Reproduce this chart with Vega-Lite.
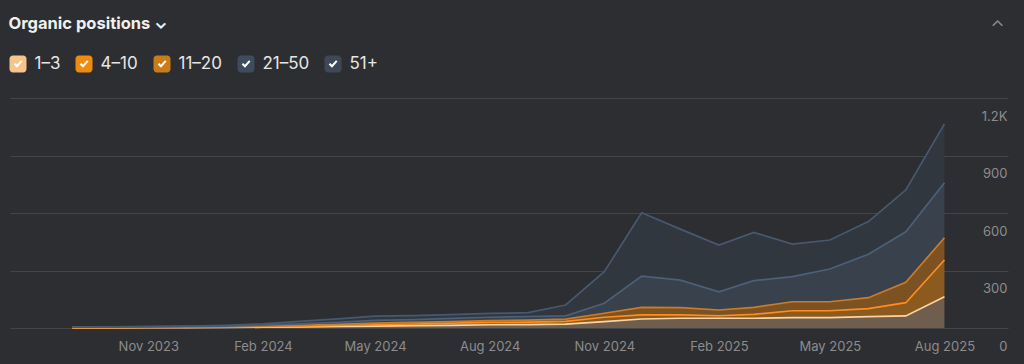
{
  "$schema": "https://vega.github.io/schema/vega-lite/v6.json",
  "width": 998,
  "height": 230,
  "autosize": {"type": "none"},
  "padding": {"left": 10, "top": 98, "right": 16, "bottom": 36},
  "background": "#2d2e31",
  "config": {
    "view": {"stroke": null},
    "font": "Inter",
    "axis": {"domain": false, "ticks": false, "tickSize": 0, "labelFont": "Inter", "labelFontSize": 13, "labelColor": "#8c8c8e"}
  },
  "data": {
    "format": {"parse": {"month": "date:'%Y-%m'"}},
    "values": [
      {"month":"2023-09","series":"1–3","rank":1,"value":1},{"month":"2023-10","series":"1–3","rank":1,"value":1},{"month":"2023-11","series":"1–3","rank":1,"value":2},{"month":"2023-12","series":"1–3","rank":1,"value":2},{"month":"2024-01","series":"1–3","rank":1,"value":3},{"month":"2024-02","series":"1–3","rank":1,"value":4},{"month":"2024-03","series":"1–3","rank":1,"value":6},{"month":"2024-04","series":"1–3","rank":1,"value":8},{"month":"2024-05","series":"1–3","rank":1,"value":10},{"month":"2024-06","series":"1–3","rank":1,"value":12},{"month":"2024-07","series":"1–3","rank":1,"value":14},{"month":"2024-08","series":"1–3","rank":1,"value":17},{"month":"2024-09","series":"1–3","rank":1,"value":18},{"month":"2024-10","series":"1–3","rank":1,"value":20},{"month":"2024-11","series":"1–3","rank":1,"value":33},{"month":"2024-12","series":"1–3","rank":1,"value":47},{"month":"2025-01","series":"1–3","rank":1,"value":51},{"month":"2025-02","series":"1–3","rank":1,"value":51},{"month":"2025-03","series":"1–3","rank":1,"value":51},{"month":"2025-04","series":"1–3","rank":1,"value":54},{"month":"2025-05","series":"1–3","rank":1,"value":54},{"month":"2025-06","series":"1–3","rank":1,"value":59},{"month":"2025-07","series":"1–3","rank":1,"value":63},{"month":"2025-08","series":"1–3","rank":1,"value":163},
      {"month":"2023-09","series":"4–10","rank":2,"value":1},{"month":"2023-10","series":"4–10","rank":2,"value":1},{"month":"2023-11","series":"4–10","rank":2,"value":1},{"month":"2023-12","series":"4–10","rank":2,"value":2},{"month":"2024-01","series":"4–10","rank":2,"value":2},{"month":"2024-02","series":"4–10","rank":2,"value":3},{"month":"2024-03","series":"4–10","rank":2,"value":4},{"month":"2024-04","series":"4–10","rank":2,"value":5},{"month":"2024-05","series":"4–10","rank":2,"value":7},{"month":"2024-06","series":"4–10","rank":2,"value":9},{"month":"2024-07","series":"4–10","rank":2,"value":11},{"month":"2024-08","series":"4–10","rank":2,"value":12},{"month":"2024-09","series":"4–10","rank":2,"value":13},{"month":"2024-10","series":"4–10","rank":2,"value":15},{"month":"2024-11","series":"4–10","rank":2,"value":23},{"month":"2024-12","series":"4–10","rank":2,"value":21},{"month":"2025-01","series":"4–10","rank":2,"value":17},{"month":"2025-02","series":"4–10","rank":2,"value":13},{"month":"2025-03","series":"4–10","rank":2,"value":20},{"month":"2025-04","series":"4–10","rank":2,"value":36},{"month":"2025-05","series":"4–10","rank":2,"value":36},{"month":"2025-06","series":"4–10","rank":2,"value":42},{"month":"2025-07","series":"4–10","rank":2,"value":69},{"month":"2025-08","series":"4–10","rank":2,"value":192},
      {"month":"2023-09","series":"11–20","rank":3,"value":1},{"month":"2023-10","series":"11–20","rank":3,"value":1},{"month":"2023-11","series":"11–20","rank":3,"value":1},{"month":"2023-12","series":"11–20","rank":3,"value":1},{"month":"2024-01","series":"11–20","rank":3,"value":2},{"month":"2024-02","series":"11–20","rank":3,"value":3},{"month":"2024-03","series":"11–20","rank":3,"value":4},{"month":"2024-04","series":"11–20","rank":3,"value":6},{"month":"2024-05","series":"11–20","rank":3,"value":8},{"month":"2024-06","series":"11–20","rank":3,"value":8},{"month":"2024-07","series":"11–20","rank":3,"value":8},{"month":"2024-08","series":"11–20","rank":3,"value":9},{"month":"2024-09","series":"11–20","rank":3,"value":10},{"month":"2024-10","series":"11–20","rank":3,"value":11},{"month":"2024-11","series":"11–20","rank":3,"value":21},{"month":"2024-12","series":"11–20","rank":3,"value":40},{"month":"2025-01","series":"11–20","rank":3,"value":38},{"month":"2025-02","series":"11–20","rank":3,"value":30},{"month":"2025-03","series":"11–20","rank":3,"value":37},{"month":"2025-04","series":"11–20","rank":3,"value":47},{"month":"2025-05","series":"11–20","rank":3,"value":47},{"month":"2025-06","series":"11–20","rank":3,"value":57},{"month":"2025-07","series":"11–20","rank":3,"value":106},{"month":"2025-08","series":"11–20","rank":3,"value":116},
      {"month":"2023-09","series":"21–50","rank":4,"value":1},{"month":"2023-10","series":"21–50","rank":4,"value":2},{"month":"2023-11","series":"21–50","rank":4,"value":2},{"month":"2023-12","series":"21–50","rank":4,"value":3},{"month":"2024-01","series":"21–50","rank":4,"value":3},{"month":"2024-02","series":"21–50","rank":4,"value":5},{"month":"2024-03","series":"21–50","rank":4,"value":8},{"month":"2024-04","series":"21–50","rank":4,"value":11},{"month":"2024-05","series":"21–50","rank":4,"value":15},{"month":"2024-06","series":"21–50","rank":4,"value":15},{"month":"2024-07","series":"21–50","rank":4,"value":17},{"month":"2024-08","series":"21–50","rank":4,"value":18},{"month":"2024-09","series":"21–50","rank":4,"value":19},{"month":"2024-10","series":"21–50","rank":4,"value":17},{"month":"2024-11","series":"21–50","rank":4,"value":52},{"month":"2024-12","series":"21–50","rank":4,"value":163},{"month":"2025-01","series":"21–50","rank":4,"value":144},{"month":"2025-02","series":"21–50","rank":4,"value":95},{"month":"2025-03","series":"21–50","rank":4,"value":139},{"month":"2025-04","series":"21–50","rank":4,"value":131},{"month":"2025-05","series":"21–50","rank":4,"value":171},{"month":"2025-06","series":"21–50","rank":4,"value":227},{"month":"2025-07","series":"21–50","rank":4,"value":264},{"month":"2025-08","series":"21–50","rank":4,"value":287},
      {"month":"2023-09","series":"51+","rank":5,"value":1},{"month":"2023-10","series":"51+","rank":5,"value":1},{"month":"2023-11","series":"51+","rank":5,"value":2},{"month":"2023-12","series":"51+","rank":5,"value":2},{"month":"2024-01","series":"51+","rank":5,"value":4},{"month":"2024-02","series":"51+","rank":5,"value":7},{"month":"2024-03","series":"51+","rank":5,"value":13},{"month":"2024-04","series":"51+","rank":5,"value":18},{"month":"2024-05","series":"51+","rank":5,"value":22},{"month":"2024-06","series":"51+","rank":5,"value":21},{"month":"2024-07","series":"51+","rank":5,"value":20},{"month":"2024-08","series":"51+","rank":5,"value":20},{"month":"2024-09","series":"51+","rank":5,"value":20},{"month":"2024-10","series":"51+","rank":5,"value":57},{"month":"2024-11","series":"51+","rank":5,"value":165},{"month":"2024-12","series":"51+","rank":5,"value":330},{"month":"2025-01","series":"51+","rank":5,"value":266},{"month":"2025-02","series":"51+","rank":5,"value":244},{"month":"2025-03","series":"51+","rank":5,"value":252},{"month":"2025-04","series":"51+","rank":5,"value":170},{"month":"2025-05","series":"51+","rank":5,"value":151},{"month":"2025-06","series":"51+","rank":5,"value":170},{"month":"2025-07","series":"51+","rank":5,"value":218},{"month":"2025-08","series":"51+","rank":5,"value":307}
    ]
  },
  "encoding": {
    "x": {
      "field": "month", "type": "temporal",
      "scale": {"domain": [{"year": 2023, "month": 7, "date": 13}, {"year": 2025, "month": 9, "date": 21}], "nice": false},
      "axis": {
        "title": null, "grid": false, "format": "%b %Y", "labelPadding": 12, "labelFlush": false, "labelOverlap": false,
        "values": [
          {"year": 2023, "month": 11, "date": 1}, {"year": 2024, "month": 2, "date": 1}, {"year": 2024, "month": 5, "date": 1},
          {"year": 2024, "month": 8, "date": 1}, {"year": 2024, "month": 11, "date": 1}, {"year": 2025, "month": 2, "date": 1},
          {"year": 2025, "month": 5, "date": 1}, {"year": 2025, "month": 8, "date": 1}
        ]
      }
    },
    "y": {
      "field": "value", "type": "quantitative", "stack": "zero",
      "scale": {"domain": [0, 1200], "nice": false},
      "axis": {
        "orient": "right", "values": [0, 300, 600, 900, 1200], "grid": true, "gridColor": "#444548", "gridWidth": 1,
        "labelAlign": "right", "labelPadding": -1, "labelOffset": 18, "labelBaseline": "middle", "labelBound": false,
        "labelExpr": "datum.value >= 1000 ? format(datum.value / 1000, '.1f') + 'K' : format(datum.value, 'd')",
        "title": "⌃", "titleAngle": 0, "titleX": -11, "titleY": -70, "titleFontSize": 18, "titleFontWeight": 400,
        "titleColor": "#8c8c8e", "titleAlign": "center", "titleBaseline": "middle"
      }
    },
    "order": {"field": "rank", "type": "quantitative"}
  },
  "layer": [
    {
      "mark": {"type": "area", "interpolate": "linear"},
      "encoding": {
        "fill": {
          "field": "series", "type": "nominal",
          "scale": {"domain": ["51+", "21–50", "11–20", "4–10", "1–3"], "range": ["#31373e", "#38414c", "#7d5222", "#8b5a1f", "#6f5e4e"]},
          "legend": null
        }
      }
    },
    {
      "mark": {"type": "line", "interpolate": "linear", "strokeWidth": 1.7},
      "encoding": {
        "stroke": {
          "field": "series", "type": "nominal",
          "scale": {"domain": ["11–20", "1–3", "4–10", "21–50", "51+"], "range": ["#c77d2a", "#ffd3a1", "#ff8e1c", "#4c6079", "#485870"]},
          "legend": null
        }
      }
    },
    {
      "transform": [{"filter": "datum.value < 0"}],
      "mark": {"type": "point", "filled": true, "size": 289, "shape": "M-1,-0.6C-1,-0.82 -0.82,-1 -0.6,-1L0.6,-1C0.82,-1 1,-0.82 1,-0.6L1,0.6C1,0.82 0.82,1 0.6,1L-0.6,1C-0.82,1 -1,0.82 -1,0.6Z"},
      "encoding": {
        "color": {
          "field": "series", "type": "nominal",
          "scale": {"domain": ["1–3", "4–10", "11–20", "21–50", "51+"], "range": ["#f7c48b", "#f08a10", "#c97d18", "#3f4c5e", "#3e4857"]},
          "legend": {
            "orient": "none", "legendX": -1.5, "legendY": -82, "direction": "horizontal", "columns": 5,
            "title": "Organic positions ⌄", "titleFont": "Inter", "titleFontSize": 16.5, "titleFontWeight": 700, "titleColor": "#f0f0f0",
            "titlePadding": 22, "titleBaseline": "top", "titleAnchor": "start",
            "symbolType": "M-1,-0.6C-1,-0.82 -0.82,-1 -0.6,-1L0.6,-1C0.82,-1 1,-0.82 1,-0.6L1,0.6C1,0.82 0.82,1 0.6,1L-0.6,1C-0.82,1 -1,0.82 -1,0.6Z",
            "symbolSize": 289, "symbolStrokeWidth": 2, "symbolStrokeColor": "transparent", "symbolOpacity": 1,
            "labelFont": "Inter", "labelFontSize": 17, "labelColor": "#e6e6e6", "labelOffset": 7, "columnPadding": 11, "padding": 0, "zindex": 0
          }
        }
      }
    },
    {
      "transform": [{"filter": "datum.value < 0"}],
      "mark": {"type": "point", "filled": false, "size": 289, "color": "#ffffff", "strokeWidth": 2},
      "encoding": {
        "shape": {
          "field": "series", "type": "nominal",
          "scale": {"domain": ["21–50", "1–3", "4–10", "11–20", "51+"], "range": ["M-1,-1L-1,-1M1,1L1,1M-0.42,0.02L-0.12,0.32L0.44,-0.3", "M-1,-1L-1,-1M1,1L1,1M-0.42,0.02L-0.12,0.32L0.44,-0.3", "M-1,-1L-1,-1M1,1L1,1M-0.42,0.02L-0.12,0.32L0.44,-0.3", "M-1,-1L-1,-1M1,1L1,1M-0.42,0.02L-0.12,0.32L0.44,-0.3", "M-1,-1L-1,-1M1,1L1,1M-0.42,0.02L-0.12,0.32L0.44,-0.3"]},
          "legend": {
            "orient": "none", "legendX": -1.5, "legendY": -44, "direction": "horizontal", "columns": 5, "title": null,
            "values": ["1–3", "4–10", "11–20", "21–50", "51+"],
            "symbolSize": 289, "symbolStrokeWidth": 2, "symbolStrokeColor": "#ffffff", "symbolFillColor": "transparent", "symbolOpacity": 1,
            "labelFont": "Inter", "labelFontSize": 17, "labelColor": "transparent", "labelOffset": 7, "columnPadding": 11, "padding": 0, "zindex": 1
          }
        }
      }
    }
  ]
}
